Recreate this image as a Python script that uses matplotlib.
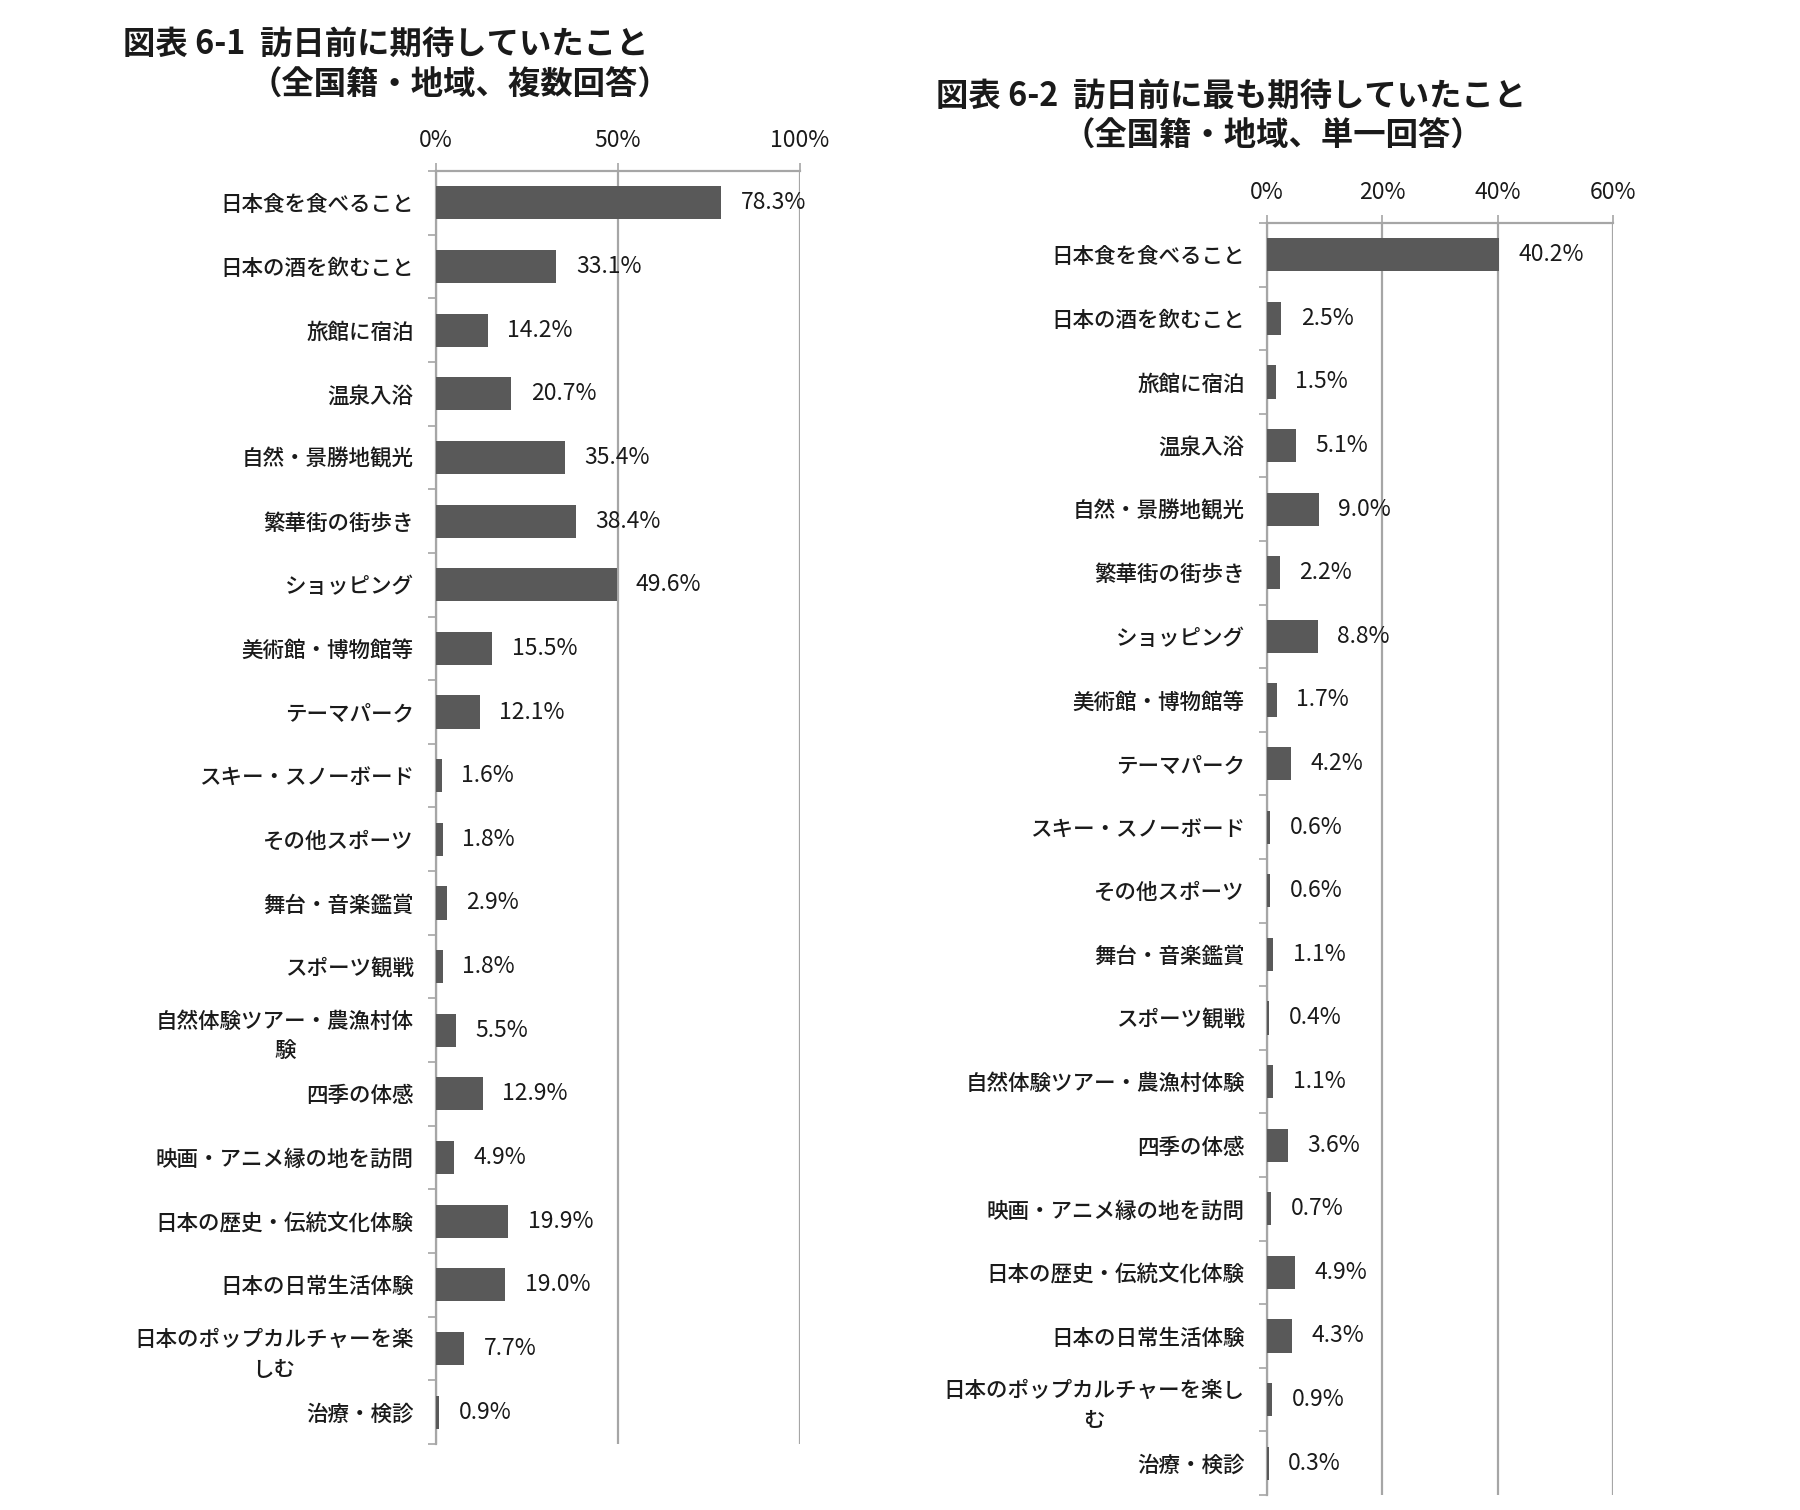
import numpy as np
import matplotlib
matplotlib.use('Agg')
import matplotlib.pyplot as plt
from matplotlib.ticker import FixedLocator

plt.rcParams['font.family'] = ['Noto Sans CJK JP', 'DejaVu Sans']

labels_multi = ['日本食を食べること', '日本の酒を飲むこと', '旅館に宿泊', '温泉入浴',
                '自然・景勝地観光', '繁華街の街歩き', 'ショッピング', '美術館・博物館等',
                'テーマパーク', 'スキー・スノーボード', 'その他スポーツ', '舞台・音楽鑑賞',
                'スポーツ観戦', '自然体験ツアー・農漁村体\n験', '四季の体感',
                '映画・アニメ縁の地を訪問', '日本の歴史・伝統文化体験', '日本の日常生活体験',
                '日本のポップカルチャーを楽\nしむ', '治療・検診']
values_multi = [78.3, 33.1, 14.2, 20.7, 35.4, 38.4, 49.6, 15.5, 12.1, 1.6,
                1.8, 2.9, 1.8, 5.5, 12.9, 4.9, 19.9, 19.0, 7.7, 0.9]

labels_single = ['日本食を食べること', '日本の酒を飲むこと', '旅館に宿泊', '温泉入浴',
                 '自然・景勝地観光', '繁華街の街歩き', 'ショッピング', '美術館・博物館等',
                 'テーマパーク', 'スキー・スノーボード', 'その他スポーツ', '舞台・音楽鑑賞',
                 'スポーツ観戦', '自然体験ツアー・農漁村体験', '四季の体感',
                 '映画・アニメ縁の地を訪問', '日本の歴史・伝統文化体験', '日本の日常生活体験',
                 '日本のポップカルチャーを楽し\nむ', '治療・検診']
values_single = [40.2, 2.5, 1.5, 5.1, 9.0, 2.2, 8.8, 1.7, 4.2, 0.6,
                 0.6, 1.1, 0.4, 1.1, 3.6, 0.7, 4.9, 4.3, 0.9, 0.3]

ticks_multi = [0, 50, 100]
ticks_single = [0, 20, 40, 60]

BAR = '#595959'
GRID = '#a6a6a6'
TXT = '#1a1a1a'
W, H = 1800, 1510


def px_axes(fig, x0, x1, ytop, ybot):
    return fig.add_axes([x0 / W, 1 - ybot / H, (x1 - x0) / W, (ybot - ytop) / H])


def plot_bars(ax, labels, values, ticks):
    y = np.arange(len(labels))
    ax.barh(y, values, height=0.52, color=BAR, zorder=3)
    for yi, v in zip(y, values):
        ax.annotate(f'{v:.1f}%', (v, yi), xytext=(14, 0), textcoords='offset points',
                    va='center', ha='left', fontsize=16.5, color=TXT, zorder=4)
    ax.set_xlim(ticks[0], ticks[-1])
    ax.set_ylim(len(labels) - 0.5, -0.5)
    ax.xaxis.set_ticks_position('top')
    ax.set_xticks(ticks)
    ax.set_xticklabels([f'{t}%' for t in ticks], fontsize=16.5, color=TXT)
    ax.tick_params(axis='x', length=6, width=1.2, color=GRID, pad=8)
    ax.set_yticks(y)
    ax.set_yticklabels(labels, fontsize=15.5, color=TXT, fontweight='medium',
                       multialignment='center', linespacing=1.45)
    ax.tick_params(axis='y', which='major', length=0, pad=16)
    ax.yaxis.set_minor_locator(FixedLocator(np.arange(-0.5, len(labels), 1.0)))
    ax.tick_params(axis='y', which='minor', length=6, width=1.2, color=GRID)
    ax.grid(axis='x', color=GRID, linewidth=1.6, zorder=0)
    for s in ['right', 'bottom']:
        ax.spines[s].set_visible(False)
    for s in ['left', 'top']:
        ax.spines[s].set_color(GRID)
        ax.spines[s].set_linewidth(1.6)


fig = plt.figure(figsize=(18, 15.1), dpi=100)

ax1 = px_axes(fig, 436, 800, 171, 1444)
plot_bars(ax1, labels_multi, values_multi, ticks_multi)

ax2 = px_axes(fig, 1267, 1613, 223, 1495)
plot_bars(ax2, labels_single, values_single, ticks_single)

tfont = dict(fontsize=23.3, fontweight='bold', color=TXT, va='center', ha='left')
fig.text(123 / W, 1 - 44 / H, '図表 6-1  訪日前に期待していたこと', **tfont)
fig.text(250 / W, 1 - 85 / H, '（全国籍・地域、複数回答）', **tfont)
fig.text(936 / W, 1 - 96 / H, '図表 6-2  訪日前に最も期待していたこと', **tfont)
fig.text(1063 / W, 1 - 136 / H, '（全国籍・地域、単一回答）', **tfont)

plt.savefig('out.png', dpi=100, facecolor='white')
